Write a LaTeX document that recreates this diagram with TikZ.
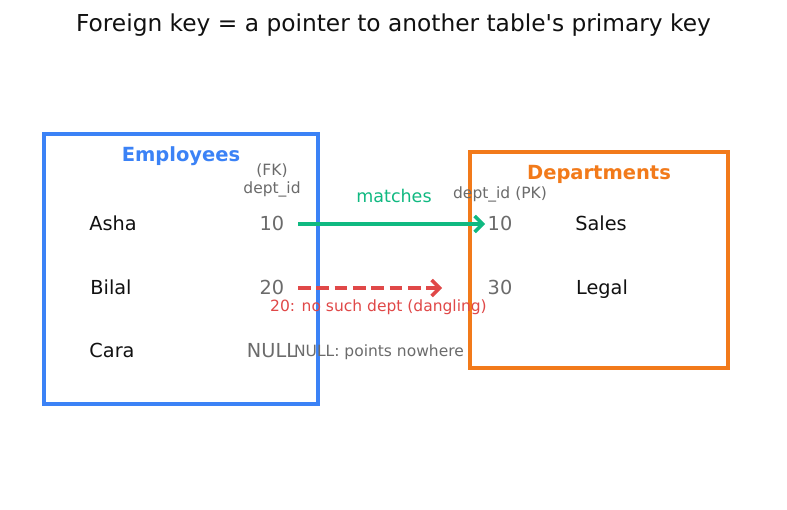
\documentclass[tikz,border=0pt]{standalone}
\usepackage{fontspec}
\setmainfont{DejaVu Sans}
\usetikzlibrary{arrows.meta}
\definecolor{cblue}{HTML}{3B82F6}
\definecolor{corange}{HTML}{F27A1A}
\definecolor{cgreen}{HTML}{10B981}
\definecolor{cred}{HTML}{E04848}
\definecolor{cgray}{HTML}{6B6B6B}
\definecolor{cblack}{HTML}{111111}
\newcommand{\fs}[1]{\fontsize{#1}{18}\selectfont}
\tikzset{
  tbox/.style={line width=3.5pt},
  rowtxt/.style={font=\fs{19.3}, text=cblack, inner sep=0pt, anchor=base},
  numtxt/.style={font=\fs{19.3}, text=cgray, inner sep=0pt, anchor=base},
  small/.style={font=\fs{15.5}, inner sep=0pt, anchor=base, align=center},
  ttl/.style={font=\bfseries\fs{19.5}, inner sep=0pt, anchor=base},
  arr/.style={line width=3.5pt, -{Straight Barb[length=8pt,width=16pt,line width=3.5pt]}}
}
\begin{document}
\begin{tikzpicture}[x=1pt,y=-1pt]
\useasboundingbox[fill=white] (0,0) rectangle (787,510);
\node[font=\fs{23.3}, text=cblack, inner sep=0pt, anchor=base] (title) at (393.5,31.7) {Foreign key = a pointer to another table\textquotesingle s primary key};
% Employees
\draw[tbox, cblue] (44,134) rectangle (318,404);
\node[ttl, text=cblue] (emp) at (181,161.4) {Employees};
\node[small, text=cgray] (fk) at (272,193.1) {(FK)\\dept\_id};
\node[rowtxt] (asha) at (113,230.3) {Asha};
\node[rowtxt] (bilal) at (111,294.3) {Bilal};
\node[rowtxt] (cara) at (112,357.3) {Cara};
\node[numtxt] (e10) at (272,230.3) {10};
\node[numtxt] (e20) at (272,294.3) {20};
\node[numtxt] (enull) at (272,357.3) {NULL};
% Departments
\draw[tbox, corange] (470,152) rectangle (728,368);
\node[ttl, text=corange] (dep) at (599,179.4) {Departments};
\node[small, text=cgray] (pk) at (500,198.1) {dept\_id (PK)};
\node[numtxt] (d10) at (500,230.3) {10};
\node[numtxt] (d30) at (500,294.3) {30};
\node[rowtxt] (sales) at (601,230.3) {Sales};
\node[rowtxt] (legal) at (602,294.3) {Legal};
% arrows
\coordinate (g1) at (298,224);
\coordinate (g2) at (485,224);
\draw[arr, cgreen] (g1) -- (g2);
\node[font=\fs{17.5}, text=cgreen, inner sep=0pt, anchor=base] (match) at (394,202.7) {matches};
\coordinate (r1) at (298,288);
\coordinate (r2) at (442,288);
\draw[arr, cred, dash pattern=on 12.8pt off 5.5pt] (r1) -- (r2);
\node[small, text=cred] (dang) at (378.5,311.1) {20: no such dept (dangling)};
\node[small, text=cgray] (nowhere) at (379,356.1) {NULL: points nowhere};
\end{tikzpicture}
\end{document}
